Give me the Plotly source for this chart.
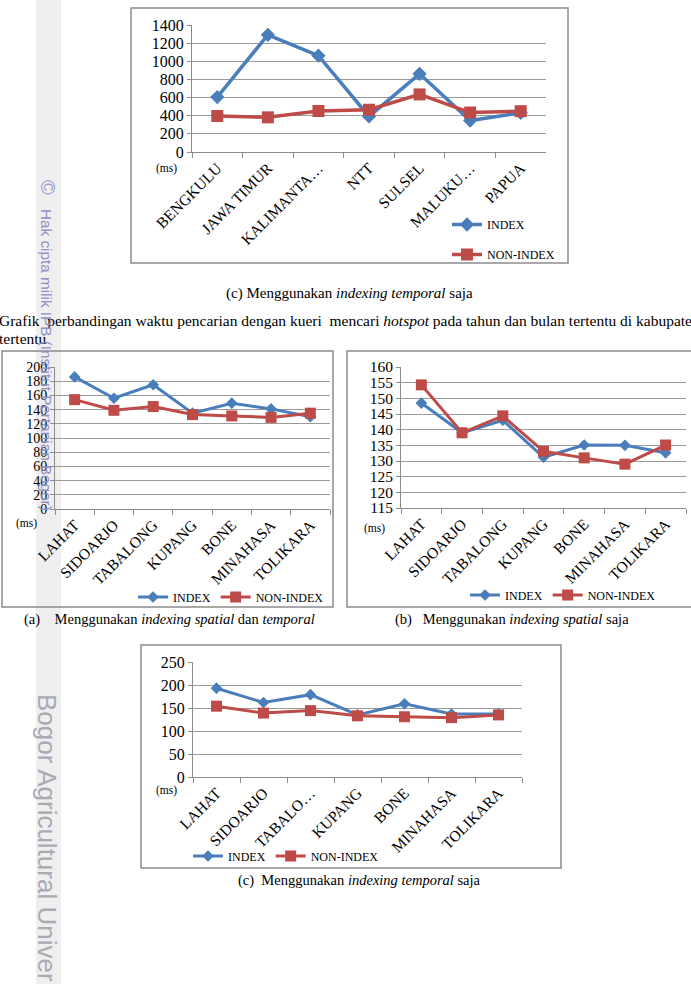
import plotly.graph_objects as go

W, H = 691, 984

# ---------------- data ----------------
prov = ["BENGKULU", "JAWA TIMUR", "KALIMANTA…", "NTT", "SULSEL", "MALUKU…", "PAPUA"]
top_index = [606, 1292, 1062, 392, 862, 347, 432]
top_nonindex = [397, 382, 452, 466, 635, 435, 450]

kab_a = ["LAHAT", "SIDOARJO", "TABALONG", "KUPANG", "BONE", "MINAHASA", "TOLIKARA"]
a_index = [186, 156, 175, 135, 149, 141, 130]
a_nonindex = [154, 139, 144.3, 133, 131, 129, 135]

kab_b = ["LAHAT", "SIDOARJO", "TABALONG", "KUPANG", "BONE", "MINAHASA", "TOLIKARA"]
b_index = [148.5, 139, 143, 131.2, 135.1, 135, 132.6]
b_nonindex = [154.3, 139, 144.4, 133.1, 131, 129, 135.1]

kab_c = ["LAHAT", "SIDOARJO", "TABALO…", "KUPANG", "BONE", "MINAHASA", "TOLIKARA"]
c_index = [193, 162, 179, 135, 159, 137, 137]
c_nonindex = [154, 139, 144.3, 133, 131, 129, 135]

series_names = ["INDEX", "NON-INDEX"]

BLUE = "#4a7ebb"
RED = "#be4b48"
SERIF = "Liberation Serif"


def px(x):
    return x / W


def py(y):
    return 1 - y / H


fig = go.Figure()

panels = [
    # (xaxis id, yaxis id, cats, idx, non, legend, lw, dsize, ssize)
    ("x", "y", prov, top_index, top_nonindex, "legend", 3.5, 11, 12),
    ("x2", "y2", kab_a, a_index, a_nonindex, "legend2", 3, 9, 11),
    ("x3", "y3", kab_b, b_index, b_nonindex, "legend3", 3, 9, 11),
    ("x4", "y4", kab_c, c_index, c_nonindex, "legend4", 3, 9, 11),
]

for xa, ya, cats, idx, non, leg, lw, ds, ss in panels:
    grp = leg == "legend"
    kw_a = dict(legendgroup="ga") if grp else {}
    kw_b = dict(legendgroup="gb") if grp else {}
    fig.add_trace(go.Scatter(
        x=cats, y=idx, name=series_names[0], mode="lines+markers",
        line=dict(color=BLUE, width=lw),
        marker=dict(symbol="diamond", size=ds, color=BLUE),
        xaxis=xa, yaxis=ya, legend=leg, **kw_a))
    fig.add_trace(go.Scatter(
        x=cats, y=non, name=series_names[1], mode="lines+markers",
        line=dict(color=RED, width=lw),
        marker=dict(symbol="square", size=ss, color=RED),
        xaxis=xa, yaxis=ya, legend=leg, **kw_b))


def xax(domain, anchor, size=15.5):
    return dict(domain=domain, anchor=anchor, type="category", range=[-0.5, 6.5],
                showgrid=False, showline=True, linecolor="#8c8c8c", linewidth=1,
                ticks="outside", tickson="boundaries", ticklen=5, tickcolor="#8c8c8c",
                tickangle=-45, tickfont=dict(family=SERIF, size=size, color="black"),
                automargin=False, fixedrange=True)


def yax(domain, anchor, rng, dtick, size=16):
    return dict(domain=domain, anchor=anchor, range=rng, dtick=dtick, tick0=rng[0],
                showgrid=True, gridcolor="#9a9a9a", gridwidth=1,
                showline=True, linecolor="#8c8c8c", linewidth=1,
                ticks="outside", ticklen=4, tickcolor="#8c8c8c", zeroline=False,
                tickfont=dict(family=SERIF, size=size, color="black"),
                automargin=False, fixedrange=True)


fig.update_layout(
    width=W, height=H, margin=dict(l=0, r=0, t=0, b=0),
    paper_bgcolor="white", plot_bgcolor="rgba(0,0,0,0)",
    xaxis=xax([px(192), px(546)], "y"),
    yaxis=yax([py(152), py(25)], "x", [0, 1400], 200),
    xaxis2=xax([px(55), px(330)], "y2"),
    yaxis2=yax([py(509), py(367)], "x2", [0, 200], 20, 14),
    xaxis3=xax([px(401), px(686)], "y3"),
    yaxis3=yax([py(508), py(367)], "x3", [115, 160], 5, 15.5),
    xaxis4=xax([px(193), px(522)], "y4"),
    yaxis4=yax([py(777), py(662)], "x4", [0, 250], 50, 16),
    showlegend=True,
)

leg_font = dict(family=SERIF, size=12, color="black")
fig.update_layout(
    legend=dict(x=px(447), y=py(210), xanchor="left", yanchor="top", orientation="v",
                font=leg_font, bgcolor="rgba(0,0,0,0)", tracegroupgap=11),
    legend2=dict(x=px(133), y=py(597), xanchor="left", yanchor="middle", orientation="h",
                 font=leg_font, bgcolor="rgba(0,0,0,0)"),
    legend3=dict(x=px(465), y=py(595), xanchor="left", yanchor="middle", orientation="h",
                 font=leg_font, bgcolor="rgba(0,0,0,0)"),
    legend4=dict(x=px(188), y=py(856), xanchor="left", yanchor="middle", orientation="h",
                 font=leg_font, bgcolor="rgba(0,0,0,0)"),
)

shapes = []
# watermark band
shapes.append(dict(type="rect", xref="paper", yref="paper", x0=px(36), x1=px(61), y0=0, y1=1,
                   fillcolor="#efefef", line=dict(width=0), layer="below"))
# chart frames
for x0, y0, x1, y1 in [(131, 8, 568, 263), (2, 351, 333, 607), (347, 351, 693, 607), (141, 645, 561, 868)]:
    shapes.append(dict(type="rect", xref="paper", yref="paper", x0=px(x0), x1=px(x1),
                       y0=py(y1), y1=py(y0), line=dict(color="#8c8c8c", width=1.5),
                       fillcolor="rgba(0,0,0,0)", layer="below"))
fig.update_layout(shapes=shapes)

NB = "\u00a0"
ann = []


def text(x, y, s, size=14, xanchor="center", color="black", family=SERIF, angle=0):
    ann.append(dict(x=px(x), y=py(y), xref="paper", yref="paper", text=s, showarrow=False,
                    xanchor=xanchor, yanchor="middle", textangle=angle,
                    font=dict(family=family, size=size, color=color)))


# (ms) labels
text(166, 168, "(ms)", 11.5)
text(26, 523, "(ms)", 11.5)
text(374, 528, "(ms)", 11.5)
text(166, 790, "(ms)", 11.5)

# captions
text(349, 293, "(c) Menggunakan <i>indexing temporal</i> saja", 15)
text(22, 619, "(a)" + NB * 4 + "Menggunakan <i>indexing spatial</i> dan <i>temporal</i>", 14.5, xanchor="left")
text(393, 619, "(b)" + NB * 3 + "Menggunakan <i>indexing spatial</i> saja", 14.5, xanchor="left")
text(236, 880, "(c)" + NB * 2 + "Menggunakan <i>indexing temporal</i> saja", 14.5, xanchor="left")

# paragraph text
text(-3, 321, "Grafik" + NB * 2 + "perbandingan waktu pencarian dengan kueri" + NB * 2
     + "mencari <i>hotspot</i> pada tahun dan bulan tertentu di kabupate", 15.5, xanchor="left")
text(-3, 338, "tertentu", 15.5, xanchor="left")

# watermark
text(48, 187, "©", 20, color="#9a9acc", family="Liberation Sans", angle=90)
text(47, 360, "Hak cipta milik IPB (Institut Pertanian Bogor)", 15.3, color="#8e8ec8",
     family="Liberation Sans", angle=90)
text(47, 838, "Bogor Agricultural Univer", 26, color="#aaaab6", family="Liberation Sans", angle=90)

fig.update_layout(annotations=ann)

fig.write_html("out.html", config={"displayModeBar": False},
               post_script="document.body.style.margin='0px';document.body.style.overflow='hidden';")
